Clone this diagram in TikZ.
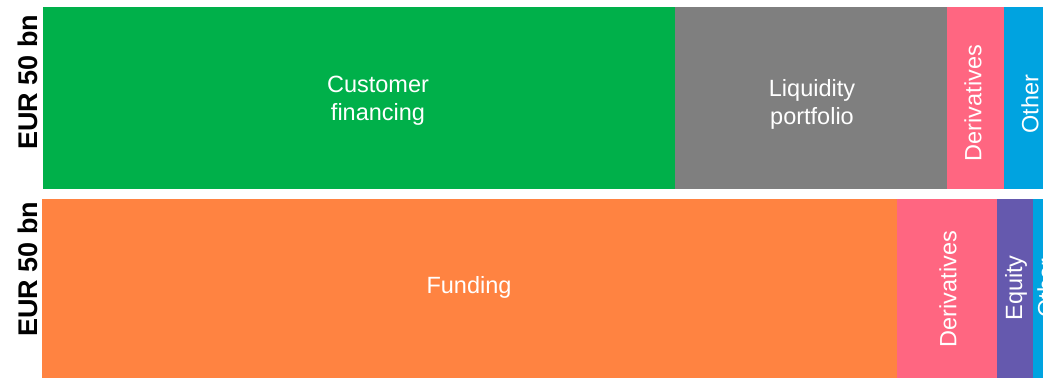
\documentclass[tikz,border=0pt]{standalone}
\usepackage{fontspec}
\setmainfont{Liberation Sans}
\definecolor{cgreen}{HTML}{00B04A}
\definecolor{cgray}{HTML}{7F7F7F}
\definecolor{cpink}{HTML}{FF6681}
\definecolor{cblue}{HTML}{00A3E0}
\definecolor{corange}{HTML}{FF8341}
\definecolor{cpurple}{HTML}{6559AE}
\tikzset{
  seglabel/.style={text=white, font=\fontsize{23.5}{28}\selectfont, align=center, inner sep=0pt},
  vlabel/.style={seglabel, rotate=90},
  axislabel/.style={text=black, font=\fontsize{27}{31}\selectfont\bfseries, rotate=90, inner sep=0pt}
}
\begin{document}
\begin{tikzpicture}[x=1pt,y=-1pt]
\useasboundingbox (0,0) rectangle (1043,378);
\clip (0,0) rectangle (1043,378);
% top bar
\fill[cgreen] (43,7) rectangle (675,189);
\fill[cgray] (675,7) rectangle (947,189);
\fill[cpink] (947,7) rectangle (1004,189);
\fill[cblue] (1004,7) rectangle (1043,189);
% bottom bar
\fill[corange] (42,199) rectangle (897,378);
\fill[cpink] (897,199) rectangle (997,378);
\fill[cpurple] (997,199) rectangle (1033,378);
\fill[cblue] (1033,199) rectangle (1043,378);
% labels
\node[axislabel] (ax1) at (28,82) {EUR 50 bn};
\node[axislabel] (ax2) at (28,269) {EUR 50 bn};
\node[seglabel] (cf) at (378,101) {Customer\\financing};
\node[seglabel] (lp) at (812,104) {Liquidity\\portfolio};
\node[vlabel] (d1) at (973,103) {Derivatives};
\node[vlabel] (o1) at (1030,104) {Other};
\node[seglabel] (fu) at (469,287) {Funding};
\node[vlabel] (d2) at (948,289) {Derivatives};
\node[vlabel] (eq) at (1016,288) {Equity};
\node[vlabel] (o2) at (1046,288) {Other};
\end{tikzpicture}
\end{document}
